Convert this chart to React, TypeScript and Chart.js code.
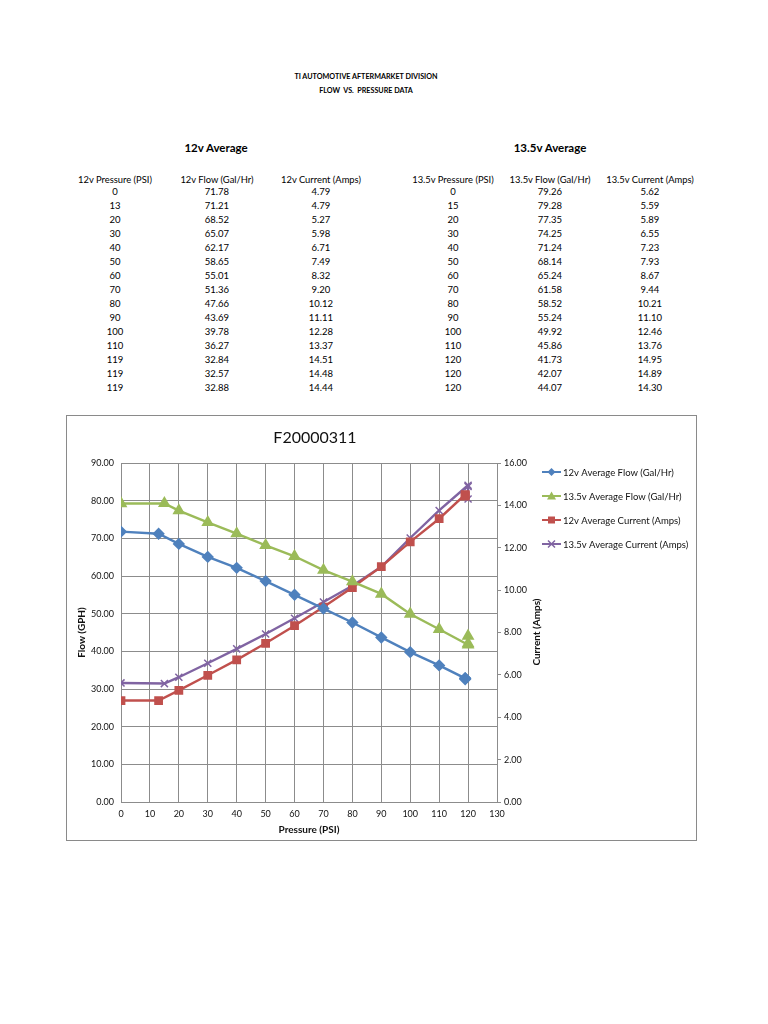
import React, { useEffect, useRef } from "react";
import { Chart, registerables } from "chart.js";
Chart.register(...registerables);

const pressure12 = [0, 13, 20, 30, 40, 50, 60, 70, 80, 90, 100, 110, 119, 119, 119];
const flow12 = [71.78, 71.21, 68.52, 65.07, 62.17, 58.65, 55.01, 51.36, 47.66, 43.69, 39.78, 36.27, 32.84, 32.57, 32.88];
const current12 = [4.79, 4.79, 5.27, 5.98, 6.71, 7.49, 8.32, 9.2, 10.12, 11.11, 12.28, 13.37, 14.51, 14.48, 14.44];
const pressure135 = [0, 15, 20, 30, 40, 50, 60, 70, 80, 90, 100, 110, 120, 120, 120];
const flow135 = [79.26, 79.28, 77.35, 74.25, 71.24, 68.14, 65.24, 61.58, 58.52, 55.24, 49.92, 45.86, 41.73, 42.07, 44.07];
const current135 = [5.62, 5.59, 5.89, 6.55, 7.23, 7.93, 8.67, 9.44, 10.21, 11.1, 12.46, 13.76, 14.95, 14.89, 14.3];

const headers12 = ["12v Pressure (PSI)", "12v Flow (Gal/Hr)", "12v Current (Amps)"];
const headers135 = ["13.5v Pressure (PSI)", "13.5v Flow (Gal/Hr)", "13.5v Current (Amps)"];
const seriesNames = [
  "12v Average Flow (Gal/Hr)",
  "13.5v Average Flow (Gal/Hr)",
  "12v Average Current (Amps)",
  "13.5v Average Current (Amps)",
];
const chartTitle = "F20000311";

const BLUE = "#4F81BD";
const GREEN = "#9BBB59";
const RED = "#C0504D";
const PURPLE = "#8064A2";
const GRID = "#8c8c8c";
const FONT = "Lato, 'Open Sans', sans-serif";

const pts = (xs: number[], ys: number[]) => xs.map((x, i) => ({ x, y: ys[i] }));

function Txt(props: { x: number; y: number; children: React.ReactNode; size: number; bold?: boolean }) {
  return (
    <div
      style={{
        position: "absolute",
        left: props.x,
        top: props.y,
        transform: "translate(-50%, -50%)",
        whiteSpace: "pre",
        lineHeight: 1,
        fontSize: props.size,
        fontWeight: props.bold ? 700 : 400,
        color: "#000",
      }}
    >
      {props.children}
    </div>
  );
}

function drawMarker(ctx: CanvasRenderingContext2D, style: string, x: number, y: number, color: string) {
  ctx.save();
  ctx.fillStyle = color;
  ctx.strokeStyle = color;
  ctx.lineWidth = 1.5;
  ctx.beginPath();
  if (style === "rectRot") {
    const r = 4;
    ctx.moveTo(x, y - r);
    ctx.lineTo(x + r, y);
    ctx.lineTo(x, y + r);
    ctx.lineTo(x - r, y);
    ctx.closePath();
    ctx.fill();
  } else if (style === "triangle") {
    const r = 4.5;
    ctx.moveTo(x, y - r);
    ctx.lineTo(x + r, y + r * 0.8);
    ctx.lineTo(x - r, y + r * 0.8);
    ctx.closePath();
    ctx.fill();
  } else if (style === "rect") {
    const r = 3.5;
    ctx.rect(x - r, y - r, 2 * r, 2 * r);
    ctx.fill();
  } else {
    const r = 3.5;
    ctx.moveTo(x - r, y - r);
    ctx.lineTo(x + r, y + r);
    ctx.moveTo(x + r, y - r);
    ctx.lineTo(x - r, y + r);
    ctx.stroke();
  }
  ctx.restore();
}

const decorPlugin = {
  id: "decor",
  afterDraw(chart: any) {
    const ctx: CanvasRenderingContext2D = chart.ctx;
    ctx.save();
    ctx.fillStyle = "#111";
    ctx.textAlign = "center";
    ctx.textBaseline = "middle";
    ctx.font = `16px ${FONT}`;
    ctx.fillText(chartTitle, 248, 22);

    // right axis title
    ctx.save();
    ctx.translate(470, 216);
    ctx.rotate(-Math.PI / 2);
    ctx.font = `bold 10px ${FONT}`;
    ctx.fillText("Current (Amps)", 0, 0);
    ctx.restore();

    // legend
    const colors = [BLUE, GREEN, RED, PURPLE];
    const styles = ["rectRot", "triangle", "rect", "crossRot"];
    const ys = [56, 80, 104, 128];
    ctx.font = `9.5px ${FONT}`;
    ctx.textAlign = "left";
    seriesNames.forEach((name, i) => {
      ctx.strokeStyle = colors[i];
      ctx.lineWidth = 2;
      ctx.beginPath();
      ctx.moveTo(475, ys[i]);
      ctx.lineTo(494, ys[i]);
      ctx.stroke();
      drawMarker(ctx, styles[i], 484.5, ys[i], colors[i]);
      ctx.fillStyle = "#111";
      ctx.fillText(name, 496, ys[i] + 0.5);
    });
    ctx.restore();
  },
};

function ChartBox() {
  const ref = useRef<HTMLCanvasElement | null>(null);
  useEffect(() => {
    if (!ref.current) return;
    const tickFont = { family: FONT, size: 9 };
    const chart = new Chart(ref.current, {
      type: "line",
      data: {
        datasets: [
          {
            label: seriesNames[0],
            data: pts(pressure12, flow12),
            borderColor: BLUE,
            backgroundColor: BLUE,
            pointStyle: "rectRot",
            pointRadius: 4.5,
            borderWidth: 2.4,
            yAxisID: "y",
          },
          {
            label: seriesNames[1],
            data: pts(pressure135, flow135),
            borderColor: GREEN,
            backgroundColor: GREEN,
            pointStyle: "triangle",
            pointRadius: 5,
            borderWidth: 2.4,
            yAxisID: "y",
          },
          {
            label: seriesNames[2],
            data: pts(pressure12, current12),
            borderColor: RED,
            backgroundColor: RED,
            pointStyle: "rect",
            pointRadius: 4.5,
            borderWidth: 2.4,
            yAxisID: "y1",
          },
          {
            label: seriesNames[3],
            data: pts(pressure135, current135),
            borderColor: PURPLE,
            backgroundColor: PURPLE,
            pointStyle: "crossRot",
            pointRadius: 5,
            pointBorderWidth: 1.5,
            borderWidth: 2.4,
            yAxisID: "y1",
          },
        ],
      },
      options: {
        animation: false,
        responsive: false,
        layout: { padding: { top: 47, right: 152, left: 0, bottom: 0 } },
        plugins: { legend: { display: false }, title: { display: false }, tooltip: { enabled: false } },
        scales: {
          x: {
            type: "linear",
            min: 0,
            max: 130,
            ticks: { stepSize: 10, font: tickFont, color: "#111", padding: 7, maxRotation: 0 },
            grid: { color: GRID, drawTicks: false },
            border: { color: GRID },
            title: {
              display: true,
              text: "Pressure (PSI)",
              font: { family: FONT, size: 10, weight: "bold" },
              color: "#111",
              padding: { top: 0, bottom: 4 },
            },
            afterFit: (s: any) => {
              s.height = 38;
            },
          },
          y: {
            position: "left",
            min: 0,
            max: 90,
            ticks: { stepSize: 10, font: tickFont, color: "#111", padding: 7, callback: (v: any) => Number(v).toFixed(2) },
            grid: { color: GRID, drawTicks: false },
            border: { color: GRID },
            title: {
              display: true,
              text: "Flow (GPH)",
              font: { family: FONT, size: 10, weight: "bold" },
              color: "#111",
              padding: { top: 9, bottom: 0 },
            },
            afterFit: (s: any) => {
              s.width = 54;
            },
          },
          y1: {
            position: "right",
            min: 0,
            max: 16,
            ticks: { stepSize: 2, font: tickFont, color: "#111", padding: 3, callback: (v: any) => Number(v).toFixed(2) },
            grid: { drawOnChartArea: false, color: GRID, tickLength: 4 },
            border: { color: GRID },
            afterFit: (s: any) => {
              s.width = 47;
            },
          },
        },
      },
      plugins: [decorPlugin],
    } as any);
    return () => chart.destroy();
  }, []);
  return (
    <div
      style={{
        position: "absolute",
        left: 66,
        top: 415,
        width: 631,
        height: 426,
        border: "1px solid #8a8a8a",
        boxSizing: "border-box",
        background: "#fff",
      }}
    >
      <canvas ref={ref} width={629} height={424} style={{ width: 629, height: 424, display: "block" }} />
    </div>
  );
}

function Table(props: {
  title: string;
  titleX: number;
  headers: string[];
  cols: number[];
  p: number[];
  f: number[];
  c: number[];
}) {
  const rows = props.p.map((p, i) => (
    <React.Fragment key={i}>
      <Txt x={props.cols[0]} y={192 + i * 14} size={9.5}>{String(p)}</Txt>
      <Txt x={props.cols[1]} y={192 + i * 14} size={9.5}>{props.f[i].toFixed(2)}</Txt>
      <Txt x={props.cols[2]} y={192 + i * 14} size={9.5}>{props.c[i].toFixed(2)}</Txt>
    </React.Fragment>
  ));
  return (
    <>
      <Txt x={props.titleX} y={148} size={11.5} bold>{props.title}</Txt>
      {props.headers.map((h, i) => (
        <Txt key={h} x={props.cols[i]} y={180} size={9.4}>{h}</Txt>
      ))}
      {rows}
    </>
  );
}

export default function App() {
  return (
    <div
      style={{
        position: "absolute",
        left: 0,
        top: 0,
        width: 768,
        height: 1024,
        background: "#fff",
        fontFamily: FONT,
        overflow: "hidden",
      }}
    >
      <Txt x={366} y={77} size={7.2} bold>TI AUTOMOTIVE AFTERMARKET DIVISION</Txt>
      <Txt x={366} y={91} size={7.2} bold>{"FLOW  VS.  PRESSURE DATA"}</Txt>
      <Table
        title="12v Average"
        titleX={216}
        headers={headers12}
        cols={[115, 217, 321]}
        p={pressure12}
        f={flow12}
        c={current12}
      />
      <Table
        title="13.5v Average"
        titleX={550}
        headers={headers135}
        cols={[453, 550, 650]}
        p={pressure135}
        f={flow135}
        c={current135}
      />
      <ChartBox />
    </div>
  );
}
